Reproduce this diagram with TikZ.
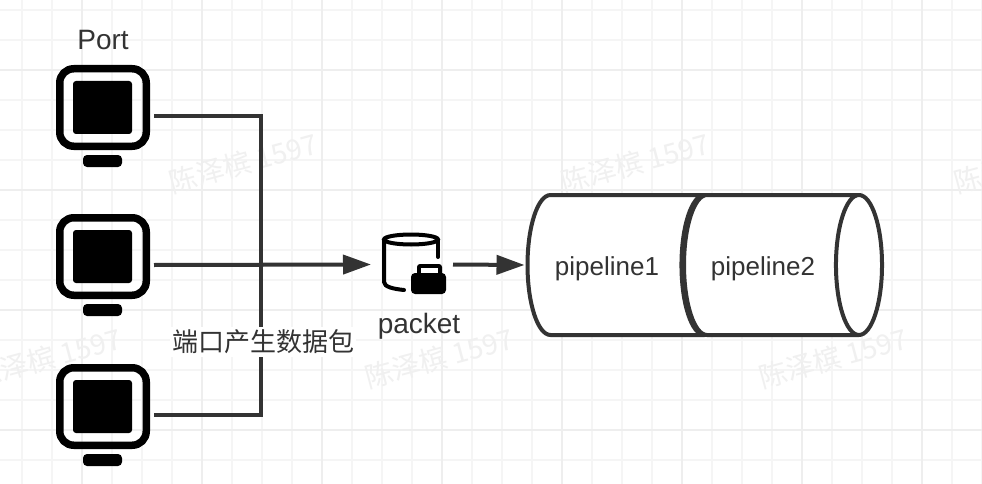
\documentclass[tikz,border=0pt]{standalone}
\usepackage{fontspec}
\setmainfont{Liberation Sans}
\newfontfamily\cjk{Noto Sans CJK SC}
\usetikzlibrary{arrows.meta,shapes.geometric}
\definecolor{inkgray}{RGB}{51,51,51}
\definecolor{gridminor}{RGB}{245,245,245}
\definecolor{gridmajor}{RGB}{238,238,238}
\definecolor{markgray}{RGB}{240,240,240}

\begin{document}
\begin{tikzpicture}[
    x=1pt, y=-1pt,
    portbox/.style={minimum width=94pt, minimum height=102pt, inner sep=0pt, outer sep=4pt},
    frame/.style={draw=black, line width=7.5pt, rounded corners=14pt, minimum width=86.5pt, minimum height=77.5pt, inner sep=0pt},
    screen/.style={fill=black, rounded corners=3pt, minimum width=59pt, minimum height=53pt, inner sep=0pt},
    stand/.style={fill=black, rounded corners=4pt, minimum width=39pt, minimum height=12pt, inner sep=0pt},
    packetbox/.style={minimum width=68pt, minimum height=61pt, inner sep=0pt, outer sep=7pt},
    pipe/.style={cylinder, draw=inkgray, fill=white, line width=4pt, aspect=1.9, minimum width=140pt, inner sep=0pt, outer sep=0pt, font=\fontsize{26}{28}\selectfont},
    caption/.style={font=\fontsize{28}{30}\selectfont, text=inkgray, inner sep=0pt},
    pipelabel/.style={font=\fontsize{26}{28}\selectfont, text=inkgray, inner sep=0pt},
    link/.style={draw=inkgray, line width=4pt},
    arrow/.style={link, -{Triangle[length=28pt,width=19pt]}},
    watermark/.style={rotate=15, text=markgray, font=\cjk\fontsize{28}{30}\selectfont, inner sep=0pt}
]
\useasboundingbox (0,0) rectangle (982,484);
\fill[white] (0,0) rectangle (982,484);

% grid
\foreach \x in {22,52,...,982} \draw[gridminor, line width=1.2pt] (\x,0) -- (\x,484);
\foreach \y in {10,40,...,484} \draw[gridminor, line width=1.2pt] (0,\y) -- (982,\y);
\foreach \x in {82,202,322,442,562,682,802,922} \draw[gridmajor, line width=1.2pt] (\x,0) -- (\x,484);
\foreach \y in {70,190,310,430} \draw[gridmajor, line width=1.2pt] (0,\y) -- (982,\y);

% watermarks
\foreach \x/\y in {243/163,635/163,47/358,439/358,833/358,1028/163}
    \node[watermark] at (\x,\y) {陈泽槟 1597};

% ports
\foreach \name/\y in {porta/116,portb/265,portc/415} {
    \node[portbox] (\name) at (103,\y) {};
    \node[frame] (\name frame) at (103,\y-8.5) {};
    \node[screen] (\name screen) at (102.5,\y-8.5) {};
    \node[stand] (\name stand) at (102.5,\y+45) {};
}
\node[caption] (portlabel) at (103,40) {Port};

% packet
\node[packetbox] (packet) at (412,264.5) {};
\draw[black, line width=4pt, line cap=round, fill=white] (411,239.5) ellipse (27pt and 5pt);
\draw[black, line width=4pt, line cap=round] (384,240) -- (384,282) .. controls (384,287) and (394,289) .. (404,290);
\draw[black, line width=4pt, line cap=round] (438,240) -- (438,257);
\fill[black, rounded corners=3pt] (417,264) rectangle (442,280);
\fill[white] (421,268) rectangle (438,274);
\fill[black, rounded corners=4pt] (411,273) rectangle (446,294);
\node[caption] (packetlabel) at (419,326) {packet};

% pipelines
\node[pipe, minimum height=200pt] (pipe1) at (615,265) {\phantom{pipeline1}};
\node[pipe, minimum height=198pt] (pipe2) at (770.5,265) {\phantom{pipeline2}};
\node[pipelabel] (pipe1label) at (607,269) {pipeline1};
\node[pipelabel] (pipe2label) at (763,269) {pipeline2};

% links
\coordinate (bus) at (261,265);
\draw[link] (porta.east) -| (bus) |- (portc.east);
\draw[arrow] (portb.east) -- (packet.west);
\draw[arrow] (packet.east) -- ([xshift=-3pt]pipe1.west);

\node[caption, fill=white, font=\cjk\fontsize{26}{28}\selectfont, inner xsep=2pt, inner ysep=3pt] (busLabel) at (263,342) {端口产生数据包};

\end{tikzpicture}
\end{document}
